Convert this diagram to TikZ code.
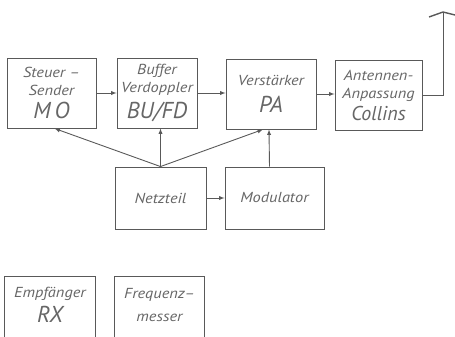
\documentclass[tikz,border=0pt]{standalone}
\usepackage{fontspec}
\setsansfont{PT Sans}
\newfontfamily\widesf[FakeStretch=1.13,Ligatures=TeX]{PT Sans}
\usetikzlibrary{calc}

\begin{document}
\begin{tikzpicture}[x=1pt,y=-1pt,>=latex,
    every node/.style={font=\widesf\itshape\fontsize{14.5}{18}\selectfont,text=black!60},
    box/.style={draw=black!65,line width=0.9pt,minimum width=#1,minimum height=70pt,
      inner sep=1pt,align=center},
    box/.default=88pt,
    obox/.style={minimum width=#1,minimum height=56pt,inner sep=1pt,align=center},
    obox/.default=90pt,
    lnk/.style={black!65,line width=0.9pt}]
  \useasboundingbox (0,0) rectangle (455,337);
  \clip (0,0) rectangle (455,337);
  \node[box=89pt] (MO) at (51.5,93) {Steuer –\\Sender\\[5pt]{\sffamily\fontsize{23}{24}\selectfont M\,O}};
  \node[box=80pt] (BU) at (157,93) {Buffer\\Verdoppler\\[5pt]{\sffamily\fontsize{23}{24}\selectfont BU/FD}};
  \node[box=90pt] (PA) at (271,94) {Verstärker\\[9pt]{\sffamily\fontsize{23}{24}\selectfont PA}};
  \node[box=87pt] (Coll) at (378.5,95) {Antennen-\\Anpassung\\[4pt]{\sffamily\fontsize{20}{21}\selectfont Collins}};
  \node[box=91pt,minimum height=62pt] (Netz) at (160.5,198) {Netzteil};
  \node[box=99pt,minimum height=62pt] (Mod) at (274.5,198) {Modulator};
  \node[obox=90pt] (RX) at (50,305) {Empfänger\\[5pt]{\sffamily\fontsize{23}{24}\selectfont RX}};
  \node[obox=89pt] (FM) at (159.5,305) {Frequenz–\\[5pt]messer};
  \coordinate (ant) at (443,12);
  \coordinate (antL) at (429,17);
  \coordinate (antR) at (455,15);
  % Sender
  \draw[->,lnk] (MO) -- (BU);
  \draw[->,lnk] (BU) -- (BU -| PA.west);
  \draw[->,lnk] (PA) -- (PA -| Coll.west);
  \draw[lnk] (Coll.east) -| (ant);
  \draw[lnk,line width=1.4pt] (antL) -- (ant) -- (antR);
  % Stromversorgung
  \draw[->,lnk] (Netz) -- (Mod);
  \draw[->,lnk] (Netz.north) -- ($(MO.south)+(3,0)$);
  \draw[->,lnk] (Netz.north) -- (Netz.north |- BU.south);
  \draw[->,lnk] (Netz.north) -- ($(PA.south)+(-8,0)$);
  \draw[->,lnk] ($(Mod.north)+(-5,0)$) -- ($(PA.south)+(-2,0)$);
  % Empfang
  \draw[lnk] ($(RX.south west)+(0,20)$) |- (RX.north east) -- ($(RX.south east)+(0,20)$);
  \draw[lnk] ($(FM.south west)+(0,20)$) |- (FM.north east) -- ($(FM.south east)+(0,20)$);
\end{tikzpicture}
\end{document}
